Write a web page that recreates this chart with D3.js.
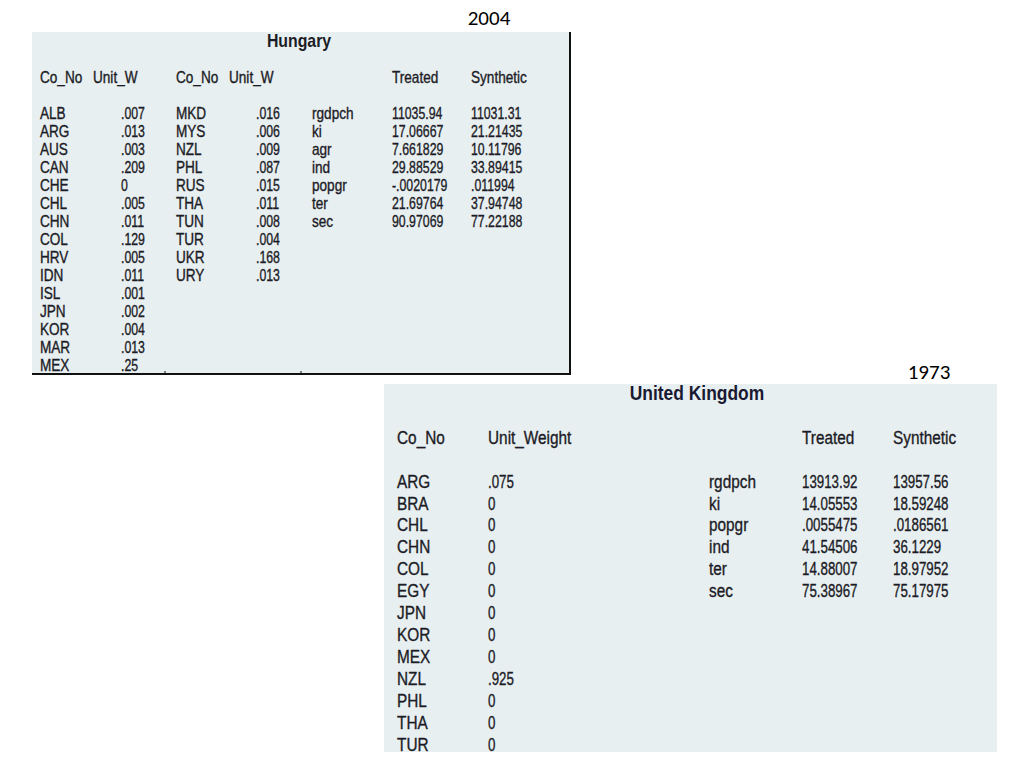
<!DOCTYPE html>
<html><head><meta charset="utf-8">
<script src="https://cdn.jsdelivr.net/npm/d3@7"></script>
<style>html,body{margin:0;padding:0;background:#fff;}svg{display:block;}</style>
</head><body>
<script>
// ---------- data ----------
const hunTitle = "Hungary";
const hunYear = "2004";
const hunCountries1 = ["ALB","ARG","AUS","CAN","CHE","CHL","CHN","COL","HRV","IDN","ISL","JPN","KOR","MAR","MEX"];
const hunWeights1   = [0.007,0.013,0.003,0.209,0,0.005,0.011,0.129,0.005,0.011,0.001,0.002,0.004,0.013,0.25];
const hunCountries2 = ["MKD","MYS","NZL","PHL","RUS","THA","TUN","TUR","UKR","URY"];
const hunWeights2   = [0.016,0.006,0.009,0.087,0.015,0.011,0.008,0.004,0.168,0.013];
const hunVars       = ["rgdpch","ki","agr","ind","popgr","ter","sec"];
const hunTreated    = [11035.94,17.06667,7.661829,29.88529,-0.0020179,21.69764,90.97069];
const hunSynthetic  = [11031.31,21.21435,10.11796,33.89415,0.011994,37.94748,77.22188];

const ukTitle = "United Kingdom";
const ukYear = "1973";
const ukCountries = ["ARG","BRA","CHL","CHN","COL","EGY","JPN","KOR","MEX","NZL","PHL","THA","TUR"];
const ukWeights   = [0.075,0,0,0,0,0,0,0,0,0.925,0,0,0];
const ukVars      = ["rgdpch","ki","popgr","ind","ter","sec"];
const ukTreated   = [13913.92,14.05553,0.0055475,41.54506,14.88007,75.38967];
const ukSynthetic = [13957.56,18.59248,0.0186561,36.1229,18.97952,75.17975];

// Stata-style number display (drop leading zero)
const fmt = v => String(v).replace(/^(-?)0\./, "$1.");

// ---------- drawing ----------
const W = 1024, H = 768;
const svg = d3.select("body").append("svg").attr("width", W).attr("height", H);
const FONT = "'Liberation Sans', Arial, sans-serif";
const INK = "#1c1c26";
const BG = "#e8eff1";

function txt(g, x, y, s, size, sx, opts = {}) {
  return g.append("text")
    .attr("transform", `translate(${x},${y}) scale(${sx},1)`)
    .attr("font-family", opts.family || FONT)
    .attr("font-size", size)
    .attr("font-weight", opts.weight || "normal")
    .attr("text-anchor", opts.anchor || "start")
    .attr("fill", opts.fill || INK)
    .attr("stroke", opts.stroke === false ? null : (opts.fill || INK))
    .attr("stroke-width", opts.stroke === false ? null : 0.35)
    .text(s);
}

// ----- Hungary panel -----
(function () {
  const g = svg.append("g");
  const x0 = 32, y0 = 32, x1 = 571, y1 = 375;
  g.append("rect").attr("x", x0).attr("y", y0).attr("width", x1 - x0).attr("height", y1 - y0).attr("fill", BG);
  g.append("line").attr("x1", x1 - 1).attr("x2", x1 - 1).attr("y1", y0).attr("y2", y1).attr("stroke", "#111").attr("stroke-width", 2);
  g.append("line").attr("x1", x0).attr("x2", x1).attr("y1", y1 - 1).attr("y2", y1 - 1).attr("stroke", "#111").attr("stroke-width", 2);
  [165, 301].forEach(x => g.append("line").attr("x1", x).attr("x2", x).attr("y1", y1 - 4).attr("y2", y1).attr("stroke", "#111").attr("stroke-width", 1));

  const fs = 16, tsx = 0.85, nsx = 0.77;
  const row = d3.scaleLinear().domain([0, 14]).range([113, 365]);
  const base = i => row(i) + fs * 0.36;

  txt(g, 299, 47, hunTitle, 18, 0.88, { weight: "bold", anchor: "middle", stroke: false });
  const hy = 77 + fs * 0.36;
  txt(g, 40, hy, "Co_No", fs, tsx);
  txt(g, 93, hy, "Unit_W", fs, tsx);
  txt(g, 176, hy, "Co_No", fs, tsx);
  txt(g, 229, hy, "Unit_W", fs, tsx);
  txt(g, 392, hy, "Treated", fs, tsx);
  txt(g, 471, hy, "Synthetic", fs, tsx);

  hunCountries1.forEach((c, i) => { txt(g, 40, base(i), c, fs, tsx); txt(g, 121, base(i), fmt(hunWeights1[i]), fs, nsx); });
  hunCountries2.forEach((c, i) => { txt(g, 176, base(i), c, fs, tsx); txt(g, 256, base(i), fmt(hunWeights2[i]), fs, nsx); });
  hunVars.forEach((v, i) => {
    txt(g, 312, base(i), v, fs, tsx);
    txt(g, 392, base(i), fmt(hunTreated[i]), fs, nsx);
    txt(g, 471, base(i), fmt(hunSynthetic[i]), fs, nsx);
  });

  txt(svg, 489, 25, hunYear, 21, 1, { family: "Carlito, 'Open Sans', sans-serif", anchor: "middle", fill: "#000", stroke: false });
})();

// ----- United Kingdom panel -----
(function () {
  const g = svg.append("g");
  const x0 = 384, y0 = 384, x1 = 997, y1 = 752;
  g.append("rect").attr("x", x0).attr("y", y0).attr("width", x1 - x0).attr("height", y1 - y0).attr("fill", BG);

  const fs = 18.5, tsx = 0.83, nsx = 0.72;
  const row = d3.scaleLinear().domain([0, 12]).range([481, 744]);
  const base = i => row(i) + fs * 0.36;

  txt(g, 697, 400, ukTitle, 21, 0.83, { weight: "bold", anchor: "middle", fill: "#1a1a33", stroke: false });
  const hy = 437 + fs * 0.36;
  txt(g, 397, hy, "Co_No", fs, tsx);
  txt(g, 488, hy, "Unit_Weight", fs, tsx);
  txt(g, 802, hy, "Treated", fs, tsx);
  txt(g, 893, hy, "Synthetic", fs, tsx);

  ukCountries.forEach((c, i) => { txt(g, 397, base(i), c, fs, tsx); txt(g, 488, base(i), fmt(ukWeights[i]), fs, nsx); });
  ukVars.forEach((v, i) => {
    txt(g, 709, base(i), v, fs, tsx);
    txt(g, 802, base(i), fmt(ukTreated[i]), fs, nsx);
    txt(g, 893, base(i), fmt(ukSynthetic[i]), fs, nsx);
  });

  txt(svg, 929, 379, ukYear, 21, 1, { family: "Carlito, 'Open Sans', sans-serif", anchor: "middle", fill: "#000", stroke: false });
})();
</script>
</body></html>
